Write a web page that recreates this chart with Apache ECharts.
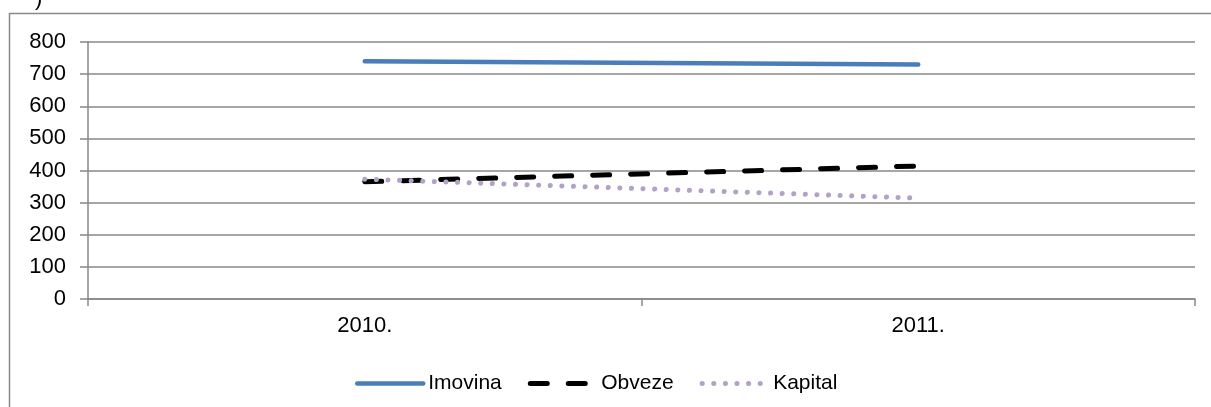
<!DOCTYPE html>
<html><head><meta charset="utf-8">
<script src="https://cdn.jsdelivr.net/npm/echarts@6/dist/echarts.min.js"></script>
<style>html,body{margin:0;padding:0;background:#fff}#c{width:1211px;height:407px}</style>
</head><body><div id="c"></div>
<script>
const categories = ['2010.', '2011.'];
const imovina = [740, 730];
const obveze = [365, 414];
const kapital = [373, 314];
const yTicks = [0, 100, 200, 300, 400, 500, 600, 700, 800];

const chart = echarts.init(document.getElementById('c'));
const font = 'Liberation Sans, Arial, sans-serif';
const FS = 22;
const hideSym = {color: 'rgba(0,0,0,0)', borderWidth: 0, opacity: 0};
chart.setOption({
  animation: false,
  graphic: [
    {type: 'rect', shape: {x: 9.5, y: 13.5, width: 1260, height: 450}, style: {fill: 'none', stroke: '#898989', lineWidth: 1.5}, z: -1},
    {type: 'text', left: 35, top: -12, style: {text: ')', font: FS + 'px ' + font, fill: '#000'}}
  ],
  grid: {left: 88, right: 16, top: 42, bottom: 108, containLabel: false},
  xAxis: {
    type: 'category', data: categories, boundaryGap: true,
    axisLine: {lineStyle: {color: '#888', width: 1.5}},
    axisTick: {show: true, length: 7, lineStyle: {color: '#888', width: 1.5}},
    axisLabel: {color: '#000', fontSize: FS, fontFamily: font, margin: 16}
  },
  yAxis: {
    type: 'value', min: 0, max: 800, interval: 100,
    axisLine: {show: true, lineStyle: {color: '#888', width: 1.5}},
    axisTick: {show: true, length: 8, lineStyle: {color: '#888', width: 1.5}},
    axisLabel: {color: '#000', fontSize: FS, fontFamily: font, margin: 22,
      formatter: v => yTicks.includes(v) ? String(v) : ''},
    splitLine: {lineStyle: {color: '#888', width: 1.5}}
  },
  legend: {
    top: 368, left: 350, itemWidth: 66, itemHeight: 6, itemGap: 26,
    textStyle: {color: '#000', fontSize: 21, fontFamily: font},
    itemStyle: hideSym,
    lineStyle: {width: 'inherit', type: 'inherit', cap: 'round'},
    data: [
      {name: 'Imovina', itemStyle: hideSym},
      {name: 'Obveze', itemStyle: hideSym},
      {name: 'Kapital', itemStyle: hideSym}
    ]
  },
  series: [
    {name: 'Imovina', type: 'line', data: imovina, symbol: 'none', showSymbol: false,
      lineStyle: {color: '#4a7ebb', width: 4.5, cap: 'round'}, itemStyle: {color: '#4a7ebb'}},
    {name: 'Obveze', type: 'line', data: obveze, symbol: 'none', showSymbol: false,
      lineStyle: {color: '#000', width: 5, type: [17, 21], cap: 'round'}, itemStyle: {color: '#000'}},
    {name: 'Kapital', type: 'line', data: kapital, symbol: 'none', showSymbol: false,
      lineStyle: {color: '#b3a2c7', width: 5, type: [0.1, 11.5], cap: 'round'}, itemStyle: {color: '#b3a2c7'}}
  ]
});
</script></body></html>
